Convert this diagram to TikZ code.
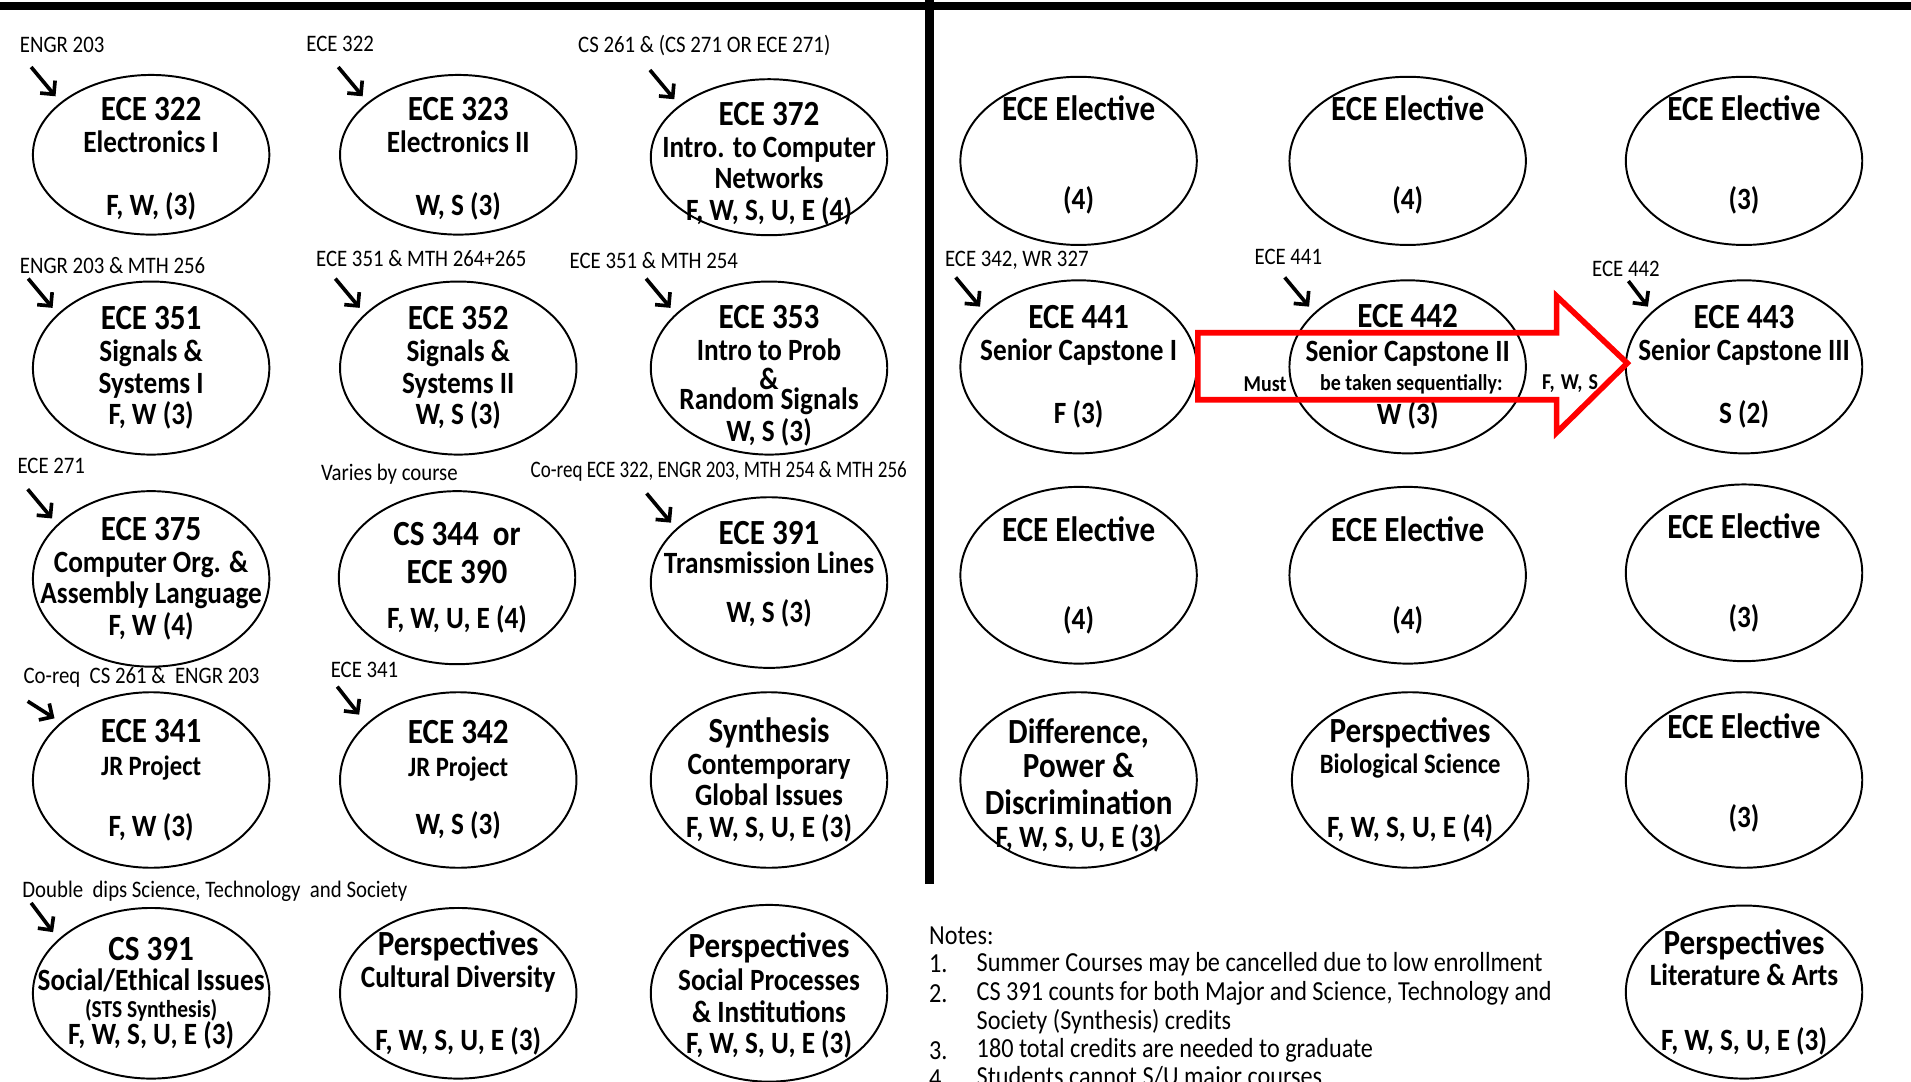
\documentclass[tikz,border=0pt]{standalone}
\usepackage{fontspec}
\setmainfont{Carlito}[FakeStretch=0.88]
\usetikzlibrary{shapes.geometric}
\usetikzlibrary{arrows.meta}

\newcommand{\ctitle}{\fontsize{14.5}{13}\selectfont}
\newcommand{\csmall}{\fontsize{11.5}{13}\selectfont}
\newcommand{\ctiny}{\fontsize{10}{13}\selectfont}

\begin{document}
\begin{tikzpicture}[
        x=0.5pt, y=-0.5pt,
        course/.style={ellipse, draw, line width=0.8pt, minimum width=97pt, minimum height=71pt,
            inner xsep=-55pt, inner ysep=-40pt, align=center, font=\bfseries\fontsize{12.7}{13}\selectfont},
        prereq/.style={anchor=west, inner sep=0pt, font=\fontsize{9.7}{11}\selectfont},
        prqarrow/.style={->, >={Straight Barb[length=4pt, width=8pt]}, line width=1.5pt},
        seqarrow/.style={draw=red, line width=2.3pt, line join=miter},
        seqtext/.style={inner sep=0pt, font=\bfseries\fontsize{9.3}{10}\selectfont},
        note/.style={anchor=west, inner sep=0pt, font=\fontsize{11.3}{13}\selectfont}
    ]
        \useasboundingbox (0,0) rectangle (1568,887);
        \clip (0,0) rectangle (1568,887);

        % --- Frame ---
        \fill (0,2) rectangle (1568,8);
        \fill (759,0) rectangle (766,725);

        % --- Left half: courses ---
        \node[course, minimum height=65.5pt] (e322) at (124,127) {\mbox{}\\[0pt]{\ctitle ECE 322}\\Electronics I\\[13pt]F, W, (3)};
        \node[course, minimum height=65.5pt] (e323) at (376,127) {\mbox{}\\[0pt]{\ctitle ECE 323}\\Electronics II\\[13pt]W, S (3)};
        \node[course, minimum height=64pt] (e372) at (631,129) {\mbox{}\\[1.8pt]{\ctitle ECE 372}\\Intro. to Computer\\Networks\\F, W, S, U, E (4)};

        \node[course] (e351) at (124,302) {{\ctitle ECE 351}\\Signals \&\\Systems I\\F, W (3)};
        \node[course] (e352) at (376,302) {{\ctitle ECE 352}\\Signals \&\\Systems II\\W, S (3)};
        \node[course] (e353) at (631,302) {\mbox{}\\[2.8pt]{\ctitle ECE 353}\\Intro to Prob\\[-1pt]\&\\[-5pt]Random Signals\\W, S (3)};

        \node[course, minimum height=72pt] (e375) at (124,475) {{\ctitle ECE 375}\\Computer Org. \&\\Assembly Language\\F, W (4)};
        \node[course] (cs344) at (375,474) {{\ctitle CS 344~ or}\\[2.5pt]{\ctitle ECE 390}\\[5.5pt]F, W, U, E (4)};
        \node[course, minimum height=70pt] (e391) at (631,478) {{\ctitle ECE 391}\\[-1pt]Transmission Lines\\[7pt]W, S (3)\\[-4pt]\mbox{}};

        \node[course, minimum height=72pt] (e341) at (124,640) {{\ctitle ECE 341}\\[0.5pt]{\csmall JR Project}\\[12pt]F, W (3)};
        \node[course, minimum height=72pt] (e342) at (376,640) {{\ctitle ECE 342}\\[0.5pt]{\csmall JR Project}\\[11pt]W, S (3)};
        \node[course, minimum height=72pt] (synth) at (631,640) {{\ctitle Synthesis}\\Contemporary\\Global Issues\\F, W, S, U, E (3)};

        \node[course, minimum height=70pt] (cs391) at (124,815) {{\ctitle CS 391}\\[-0.5pt]Social/Ethical Issues\\[-2pt]{\ctiny (STS Synthesis)}\\[-2pt]F, W, S, U, E (3)};
        \node[course, minimum height=70pt] (percd) at (376,815) {{\ctitle Perspectives}\\Cultural Diversity\\[13pt]F, W, S, U, E (3)};
        \node[course, minimum height=72.5pt] (persp) at (631,815) {\mbox{}\\[-0.9pt]{\ctitle Perspectives}\\[0.5pt]Social Processes\\\& Institutions\\F, W, S, U, E (3)};

        % --- Right half: courses ---
        \node[course, minimum height=69pt] (el1) at (885,132) {{\ctitle ECE Elective}\\[23.5pt](4)\\[-6pt]\mbox{}};
        \node[course, minimum height=69pt] (el2) at (1155,132) {{\ctitle ECE Elective}\\[23.5pt](4)\\[-6pt]\mbox{}};
        \node[course, minimum height=69pt] (el3) at (1431,132) {{\ctitle ECE Elective}\\[23.5pt](3)\\[-6pt]\mbox{}};

        \node[course] (e441) at (885,301) {{\ctitle ECE 441}\\Senior Capstone I\\[13pt]F (3)};
        \node[course] (e442) at (1155,301) {{\ctitle ECE 442}\\[1pt]Senior Capstone II\\[13pt]W (3)};
        \node[course] (e443) at (1431,301) {{\ctitle ECE 443}\\Senior Capstone III\\[13pt]S (2)};

        \node[course, minimum height=72.5pt] (el4) at (885,472) {{\ctitle ECE Elective}\\[23pt](4)};
        \node[course, minimum height=72.5pt] (el5) at (1155,472) {{\ctitle ECE Elective}\\[23pt](4)};
        \node[course, minimum height=72.5pt] (el6) at (1431,470) {{\ctitle ECE Elective}\\[23.5pt](3)};

        \node[course, minimum height=72pt] (dpd) at (885,640) {\mbox{}\\[1.5pt]{\ctitle Difference,}\\[1pt]{\ctitle Power \&}\\[2pt]{\ctitle Discrimination}\\[0.5pt]F, W, S, U, E (3)};
        \node[course, minimum height=72pt] (perbio) at (1157,640) {{\ctitle Perspectives}\\[-0.5pt]{\csmall Biological Science}\\[13.5pt]F, W, S, U, E (4)};
        \node[course, minimum height=72pt] (el7) at (1431,640) {{\ctitle ECE Elective}\\[23.5pt](3)\\[-5.5pt]\mbox{}};

        \node[course, minimum height=71pt] (perla) at (1431,814) {{\ctitle Perspectives}\\Literature \& Arts\\[13.5pt]F, W, S, U, E (3)};

        % --- Prerequisite labels ---
        \node[prereq] (p322) at (16,37) {ENGR 203};
        \node[prereq] (p323) at (251,36) {ECE 322};
        \node[prereq] (p372) at (474,37) {CS 261 \& (CS 271 OR ECE 271)};
        \node[prereq] (p351) at (16,218) {ENGR 203 \& MTH 256};
        \node[prereq] (p352) at (259,212) {ECE 351 \& MTH 264+265};
        \node[prereq] (p353) at (467,214) {ECE 351 \& MTH 254};
        \node[prereq] (p375) at (14,382) {ECE 271};
        \node[prereq] (p344) at (263,389) {Varies by course};
        \node[prereq] (p391) at (435,387) {\scalebox{0.915}[1]{Co-req ECE 322, ENGR 203, MTH 254 \& MTH 256}};
        \node[prereq] (p341) at (19,556) {Co-req~ CS 261 \&~ ENGR 203};
        \node[prereq] (p342) at (271,550) {ECE 341};
        \node[prereq] (pcs391) at (18,731) {Double~ dips Science, Technology~ and Society};
        \node[prereq] (p441) at (775,214) {ECE 342, WR 327};
        \node[prereq] (p442) at (1029,211) {ECE 441};
        \node[prereq] (p443) at (1306,221) {ECE 442};

        % --- Prerequisite arrows ---
        \draw[prqarrow] ([shift={(-24,-29)}]e322.150) -- ([shift={(-4,-5)}]e322.150);
        \draw[prqarrow] ([shift={(-24,-29)}]e323.150) -- ([shift={(-4,-5)}]e323.150);
        \draw[prqarrow] ([shift={(-24,-29)}]e372.150) -- ([shift={(-4,-5)}]e372.150);
        \draw[prqarrow] ([shift={(-24,-29)}]e351.150) -- ([shift={(-4,-5)}]e351.150);
        \draw[prqarrow] ([shift={(-24,-29)}]e352.150) -- ([shift={(-4,-5)}]e352.150);
        \draw[prqarrow] ([shift={(-24,-29)}]e353.150) -- ([shift={(-4,-5)}]e353.150);
        \draw[prqarrow] ([shift={(-24,-29)}]e375.150) -- ([shift={(-4,-5)}]e375.150);
        \draw[prqarrow] ([shift={(-24,-29)}]e391.150) -- ([shift={(-4,-5)}]e391.150);
        \draw[prqarrow] ([shift={(-24,-20)}]e341.150) -- ([shift={(-2,-6)}]e341.150);
        \draw[prqarrow] ([shift={(-22,-32)}]e342.150) -- ([shift={(-4,-9)}]e342.150);
        \draw[prqarrow] ([shift={(-22,-30)}]cs391.150) -- ([shift={(-4,-6)}]cs391.150);
        \draw[prqarrow] ([shift={(-24,-29)}]e441.150) -- ([shift={(-4,-5)}]e441.150);
        \draw[prqarrow] ([shift={(-24,-29)}]e442.150) -- ([shift={(-4,-5)}]e442.150);
        \draw[prqarrow] ([shift={(-18,-26)}]e443.150) -- ([shift={(-2,-5)}]e443.150);

        % --- Capstone sequence arrow ---
        \node[seqtext] (seq1) at (1038,315) {Must};
        \node[seqtext] (seq2) at (1158,315) {be taken sequentially:};
        \node[seqtext, anchor=west] (seq3) at (1265,315) {F,\hspace{2.5pt}W,\hspace{2.5pt}S};
        \draw[seqarrow] ([shift={(0,-28)}]e441.east) -- ([shift={(-56,-28)}]e443.west)
            -- ([shift={(-56,-58)}]e443.west) -- ([shift={(2,-3)}]e443.west) -- ([shift={(-56,54)}]e443.west)
            -- ([shift={(-56,27)}]e443.west) -- ([shift={(0,27)}]e441.east) -- cycle;

        % --- Notes ---
        \node[note] (notes) at (762,768) {Notes:};
        \node[note] (n1) at (762,791) {1.};
        \node[note] (t1) at (801,791) {Summer Courses may be cancelled due to low enrollment};
        \node[note] (n2) at (762,815) {2.};
        \node[note] (t2) at (801,815) {CS 391 counts for both Major and Science, Technology and};
        \node[note] (t2b) at (801,838) {Society (Synthesis) credits};
        \node[note] (n3) at (762,862) {3.};
        \node[note] (t3) at (801,862) {180 total credits are needed to graduate};
        \node[note] (n4) at (762,885) {4.};
        \node[note] (t4) at (801,885) {Students cannot S/U major courses};

    \end{tikzpicture}
\end{document}
